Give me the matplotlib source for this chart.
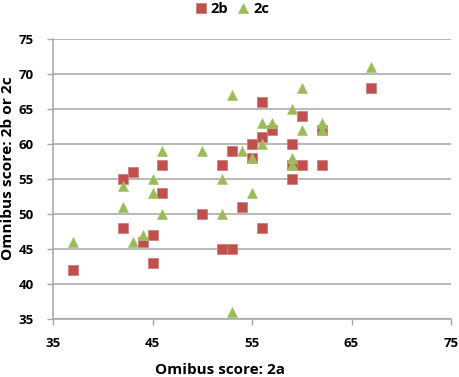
import matplotlib
matplotlib.use("Agg")
import matplotlib.pyplot as plt

# Data
b_x = [37, 42, 42, 43, 44, 45, 45, 46, 46, 50, 52, 52, 53, 53, 54, 55, 55, 56, 56, 56,
       57, 59, 59, 60, 59, 60, 62, 62, 67]
b_y = [42, 55, 48, 56, 46, 47, 43, 57, 53, 50, 57, 45, 45, 59, 51, 60, 58, 66, 61, 48,
       62, 60, 57, 57, 55, 64, 62, 57, 68]

c_x = [37, 42, 42, 43, 44, 45, 45, 46, 46, 50, 52, 52, 53, 53, 54, 55, 55, 56, 56, 57,
       59, 59, 59, 60, 60, 62, 62, 67]
c_y = [46, 54, 51, 46, 47, 55, 53, 59, 50, 59, 55, 50, 67, 36, 59, 58, 53, 63, 60, 63,
       65, 58, 57, 68, 62, 63, 62, 71]

x_ticks = [35, 45, 55, 65, 75]
y_ticks = [35, 40, 45, 50, 55, 60, 65, 70, 75]
x_label = "Omibus score: 2a"
y_label = "Omnibus score: 2b or 2c"
series_names = ["2b", "2c"]

plt.rcParams['font.family'] = ['Open Sans', 'DejaVu Sans']
plt.rcParams['font.weight'] = 'bold'

W, H = 460, 377
fig = plt.figure(figsize=(W / 100, H / 100), dpi=100)
ax = fig.add_axes([53 / W, 1 - 319 / H, (451 - 53) / W, (319 - 39) / H])

grid_c = '#a6a6a6'
ax.plot(b_x, b_y, linestyle='none', marker='s', markersize=6.6,
        markerfacecolor='#c0504d', markeredgecolor='#d0807e', markeredgewidth=0.6,
        label=series_names[0], zorder=3)
ax.plot(c_x, c_y, linestyle='none', marker='^', markersize=7.4,
        markerfacecolor='#9bbb59', markeredgecolor='#a9c56f', markeredgewidth=0.5,
        label=series_names[1], zorder=4)

ax.set_xlim(35, 75)
ax.set_ylim(35, 75)
ax.set_xticks(x_ticks)
ax.set_xticklabels([str(v) for v in x_ticks], fontweight='bold', fontsize=9.5)
ax.set_yticks(y_ticks)
ax.set_yticklabels([str(v) for v in y_ticks], fontweight='bold', fontsize=9.5)
ax.yaxis.grid(True, color=grid_c, linewidth=1.1)
ax.set_axisbelow(True)
for s in ['top', 'right']:
    ax.spines[s].set_visible(False)
for s in ['left', 'bottom']:
    ax.spines[s].set_color(grid_c)
    ax.spines[s].set_linewidth(1.1)
ax.tick_params(axis='both', colors=grid_c, length=4, width=1.0, direction='out',
               labelcolor='black')
ax.tick_params(axis='x', pad=9)
ax.tick_params(axis='y', pad=10)

# axis titles placed as figure text (centred where the reference has them)
xt = fig.text(220 / W, 1 - 370 / H, x_label, ha='center', va='center',
              fontsize=11, fontweight='bold')
yt = fig.text(8.5 / W, 1 - 168 / H, y_label, ha='center', va='center',
              rotation=90, fontsize=11, fontweight='bold')

# fit title sizes to the widths seen in the reference
fig.canvas.draw()
r = fig.canvas.get_renderer()
wx = xt.get_window_extent(r).width
xt.set_fontsize(11 * 130 / wx)
hy = yt.get_window_extent(r).height
yt.set_fontsize(11 * 183 / hy)

fig.legend(loc='center', bbox_to_anchor=(232 / W, 1 - 9 / H), ncol=2,
           frameon=False, prop={'weight': 'bold', 'size': 10.5},
           handlelength=0.8, handletextpad=0.3, columnspacing=0.6)

fig.savefig('out.png', dpi=100)
